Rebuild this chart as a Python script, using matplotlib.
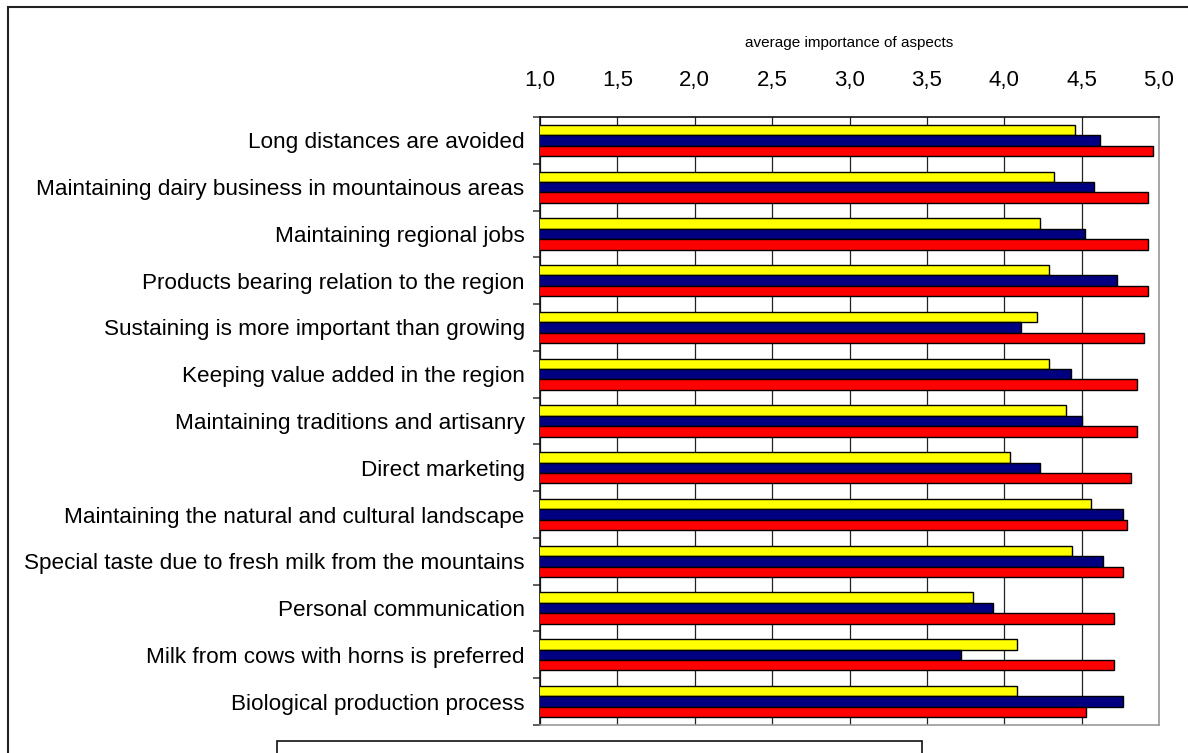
import matplotlib
matplotlib.use("Agg")
import matplotlib.pyplot as plt
import numpy as np
from matplotlib.patches import Rectangle

categories = [
    "Long distances are avoided",
    "Maintaining dairy business in mountainous areas",
    "Maintaining regional jobs",
    "Products bearing relation to the region",
    "Sustaining is more important than growing",
    "Keeping value added in the region",
    "Maintaining traditions and artisanry",
    "Direct marketing",
    "Maintaining the natural and cultural landscape",
    "Special taste due to fresh milk from the mountains",
    "Personal communication",
    "Milk from cows with horns is preferred",
    "Biological production process",
]
yellow_vals = [4.46, 4.32, 4.23, 4.29, 4.21, 4.29, 4.40, 4.04, 4.56, 4.44, 3.80, 4.08, 4.08]
blue_vals = [4.62, 4.58, 4.52, 4.73, 4.11, 4.43, 4.50, 4.23, 4.77, 4.64, 3.93, 3.72, 4.77]
red_vals = [4.96, 4.93, 4.93, 4.93, 4.90, 4.86, 4.86, 4.82, 4.79, 4.77, 4.71, 4.71, 4.53]
xtick_vals = [1.0, 1.5, 2.0, 2.5, 3.0, 3.5, 4.0, 4.5, 5.0]
xtick_labels = ["1,0", "1,5", "2,0", "2,5", "3,0", "3,5", "4,0", "4,5", "5,0"]
x_title = "average importance of aspects"

plt.rcParams["font.family"] = ["Liberation Sans", "DejaVu Sans"]

W, H = 1188, 753
fig = plt.figure(figsize=(W / 100, H / 100), dpi=100)

# outer frame (continues beyond right and bottom edges)
fig.patches.append(Rectangle((8 / W, -0.1), 1.2, 1 - 7 / H + 0.1, transform=fig.transFigure,
                             fill=False, edgecolor="#222222", lw=1.5))
# legend box (content lies below the picture edge)
fig.patches.append(Rectangle((277 / W, -0.1), (922 - 277) / W, 1 - 741 / H + 0.1,
                             transform=fig.transFigure, fill=False, edgecolor="#111111", lw=1.2))

left, right, top, bottom = 540, 1159, 117, 725
ax = fig.add_axes([left / W, 1 - bottom / H, (right - left) / W, (bottom - top) / H])

n = len(categories)
y = np.arange(n)
h = 1 / 4.5
colors = ["#FFFF00", "#000080", "#FF0000"]
for k, (vals, c) in enumerate(zip([yellow_vals, blue_vals, red_vals], colors)):
    ax.barh(y + (k - 1) * h, vals, height=h, color=c, edgecolor="black", linewidth=1.0, zorder=3)

ax.set_xlim(1.0, 5.0)
ax.set_ylim(n - 0.5, -0.5)

ax.xaxis.tick_top()
ax.xaxis.set_label_position("top")
ax.set_xticks(xtick_vals)
ax.set_xticklabels(xtick_labels, fontsize=16)
ax.tick_params(axis="x", length=0, pad=19)
ax.set_xlabel(x_title, fontsize=11, labelpad=16)

ax.set_yticks(y)
ax.set_yticklabels(categories, fontsize=16.2)
ax.set_yticks(np.arange(n + 1) - 0.5, minor=True)
ax.tick_params(axis="y", which="major", length=0, pad=11)
ax.tick_params(axis="y", which="minor", length=5, width=1.2, color="#444444", direction="out")

ax.grid(axis="x", color="#222222", linewidth=0.9, zorder=0)
ax.set_axisbelow(True)

for s in ["top", "left"]:
    ax.spines[s].set_color("#111111")
    ax.spines[s].set_linewidth(1.2)
for s in ["right", "bottom"]:
    ax.spines[s].set_color("#999999")
    ax.spines[s].set_linewidth(1.2)

fig.savefig("out.png", dpi=100)
